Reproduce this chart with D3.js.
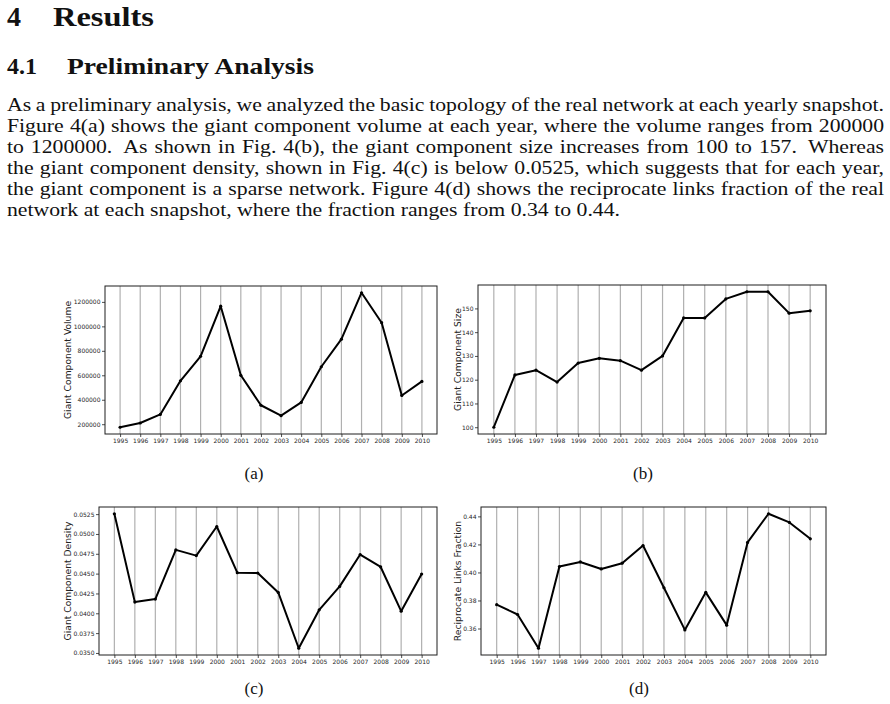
<!DOCTYPE html>
<html>
<head>
<meta charset="utf-8">
<script src="https://cdn.jsdelivr.net/npm/d3@7"></script>
<style>
  html, body { margin: 0; padding: 0; background: #fff; }
  svg { display: block; }
</style>
</head>
<body>
<svg id="page" width="890" height="704"></svg>
<script>
// ---------------- data ----------------
const years = [1995, 1996, 1997, 1998, 1999, 2000, 2001, 2002, 2003, 2004, 2005, 2006, 2007, 2008, 2009, 2010];
const volume = [175000, 210000, 280000, 555000, 755000, 1165000, 600000, 355000, 270000, 378000, 670000, 895000, 1275000, 1030000, 435000, 550000];
const size = [100, 122, 124, 119, 127, 129, 128, 124, 130, 146, 146, 154, 157, 157, 148, 149];
const density = [0.05255, 0.04141, 0.04179, 0.04799, 0.04727, 0.05094, 0.04512, 0.04508, 0.04263, 0.03559, 0.04044, 0.04339, 0.04740, 0.04584, 0.04027, 0.04495];
const reciprocity = [0.3770, 0.3700, 0.3459, 0.4042, 0.4075, 0.4025, 0.4066, 0.4192, 0.3891, 0.3590, 0.3858, 0.3624, 0.4214, 0.4419, 0.4357, 0.4240];

const volumeTicks = [200000, 400000, 600000, 800000, 1000000, 1200000];
const sizeTicks = [100, 110, 120, 130, 140, 150];
const densityTicks = [0.0350, 0.0375, 0.0400, 0.0425, 0.0450, 0.0475, 0.0500, 0.0525];
const reciprocityTicks = [0.36, 0.38, 0.40, 0.42, 0.44];

const yLabels = ["Giant Component Volume", "Giant Component Size", "Giant Component Density", "Reciprocate Links Fraction"];
const captions = ["(a)", "(b)", "(c)", "(d)"];

const sectionNumber = "4";
const sectionTitle = "Results";
const subsectionNumber = "4.1";
const subsectionTitle = "Preliminary Analysis";
const paragraph = [
  "As a preliminary analysis, we analyzed the basic topology of the real network at each yearly snapshot.",
  "Figure 4(a) shows the giant component volume at each year, where the volume ranges from 200000",
  "to 1200000.  As shown in Fig. 4(b), the giant component size increases from 100 to 157.  Whereas",
  "the giant component density, shown in Fig. 4(c) is below 0.0525, which suggests that for each year,",
  "the giant component is a sparse network. Figure 4(d) shows the reciprocate links fraction of the real",
  "network at each snapshot, where the fraction ranges from 0.34 to 0.44."
];

// ---------------- page text ----------------
const svg = d3.select("#page");
const serif = "'Liberation Serif', 'DejaVu Serif', serif";
const sans = "'DejaVu Sans', sans-serif";
const ink = "#111";

function stretchedText(x, y, str, size, weight, width) {
  const t = svg.append("text")
    .attr("x", x).attr("y", y)
    .attr("font-family", serif).attr("font-size", size)
    .attr("font-weight", weight).attr("fill", ink)
    .text(str);
  if (width) t.attr("textLength", width).attr("lengthAdjust", "spacingAndGlyphs");
  return t;
}

stretchedText(7, 26, sectionNumber, 28, "bold", 14);
stretchedText(53, 26, sectionTitle, 28, "bold", 101);
stretchedText(7, 74, subsectionNumber, 23, "bold", 30);
stretchedText(67, 74, subsectionTitle, 23, "bold", 247);

// justified paragraph lines (glyphs widened horizontally to mimic Computer Modern widths)
const paraX = 7, paraRight = 884, paraTop = 111, paraLead = 21, paraSize = 18.5, lastLineEnd = 620;
const probe = svg.append("text").attr("font-family", serif).attr("font-size", paraSize)
  .text(paragraph[paragraph.length - 1]);
const lastNatural = probe.node().getComputedTextLength();
probe.remove();
const sx = (lastLineEnd - paraX) / lastNatural;

paragraph.forEach((line, i) => {
  const parts = line.split(/( +)/);
  const words = parts.filter((_, k) => k % 2 === 0);
  const weights = parts.filter((_, k) => k % 2 === 1).map(s => s.length > 1 ? 1.6 : 1);
  const y = paraTop + i * paraLead;
  const g = svg.append("g").attr("transform", `translate(${paraX},0) scale(${sx},1)`);
  const nodes = words.map(w => g.append("text")
    .attr("y", y)
    .attr("font-family", serif).attr("font-size", paraSize).attr("fill", ink)
    .text(w));
  const widths = nodes.map(n => n.node().getComputedTextLength());
  const total = d3.sum(widths);
  const target = (i === paragraph.length - 1) ? lastNatural : (paraRight - paraX) / sx;
  const unit = (target - total) / d3.sum(weights);
  let x = 0;
  nodes.forEach((n, k) => { n.attr("x", x); x += widths[k] + (k < weights.length ? unit * weights[k] : 0); });
});

// ---------------- charts ----------------
const panels = [
  { values: volume,      ticks: volumeTicks,      fmt: d3.format("d"),   box: [105, 286, 437, 434], labelX: 67 },
  { values: size,        ticks: sizeTicks,        fmt: d3.format("d"),   box: [478, 285, 826, 434], labelX: 457 },
  { values: density,     ticks: densityTicks,     fmt: d3.format(".4f"), box: [99, 507, 437, 655], labelX: 67 },
  { values: reciprocity, ticks: reciprocityTicks, fmt: d3.format(".2f"), box: [481, 507, 826, 655], labelX: 457 }
];
const captionPos = [[254, 479], [643, 479], [254, 694], [639, 694]];

function padded(ext) {
  const pad = (ext[1] - ext[0]) * 0.05;
  return [ext[0] - pad, ext[1] + pad];
}

panels.forEach((p, i) => {
  const [x0, y0, x1, y1] = p.box;
  const x = d3.scaleLinear().domain(padded(d3.extent(years))).range([x0, x1]);
  const y = d3.scaleLinear().domain(padded(d3.extent(p.values))).range([y1, y0]);
  const g = svg.append("g");

  // vertical grid
  g.append("g").selectAll("line").data(years).join("line")
    .attr("x1", d => x(d)).attr("x2", d => x(d))
    .attr("y1", y0).attr("y2", y1)
    .attr("stroke", "#b0b0b0").attr("stroke-width", 1.2);

  // axes
  const xa = g.append("g").attr("transform", `translate(0,${y1})`)
    .call(d3.axisBottom(x).tickValues(years).tickFormat(d3.format("d")).tickSize(3).tickSizeOuter(0).tickPadding(2));
  const ya = g.append("g").attr("transform", `translate(${x0},0)`)
    .call(d3.axisLeft(y).tickValues(p.ticks).tickFormat(p.fmt).tickSize(3).tickSizeOuter(0).tickPadding(1.5));
  [xa, ya].forEach(a => {
    a.select(".domain").remove();
    a.selectAll("line").attr("stroke", "#222").attr("stroke-width", 0.8);
    a.selectAll("text").attr("font-family", sans).attr("font-size", 6).attr("fill", "#262626");
  });

  // frame
  g.append("rect").attr("x", x0).attr("y", y0).attr("width", x1 - x0).attr("height", y1 - y0)
    .attr("fill", "none").attr("stroke", "#1e1e1e").attr("stroke-width", 1);

  // series line + markers
  const pts = years.map((yr, k) => [yr, p.values[k]]);
  g.append("path").datum(pts)
    .attr("fill", "none").attr("stroke", "#000").attr("stroke-width", 2)
    .attr("stroke-linejoin", "round")
    .attr("d", d3.line().x(d => x(d[0])).y(d => y(d[1])));
  g.append("g").selectAll("circle").data(pts).join("circle")
    .attr("cx", d => x(d[0])).attr("cy", d => y(d[1])).attr("r", 1.6).attr("fill", "#000");

  // y label
  g.append("text")
    .attr("transform", `translate(${p.labelX},${(y0 + y1) / 2}) rotate(-90)`)
    .attr("text-anchor", "middle").attr("dominant-baseline", "central")
    .attr("font-family", sans).attr("font-size", 9.2).attr("fill", "#222")
    .text(yLabels[i]);

  // caption
  svg.append("text")
    .attr("x", captionPos[i][0]).attr("y", captionPos[i][1])
    .attr("text-anchor", "middle")
    .attr("font-family", serif).attr("font-size", 17).attr("fill", ink)
    .text(captions[i]);
});
</script>
</body>
</html>
